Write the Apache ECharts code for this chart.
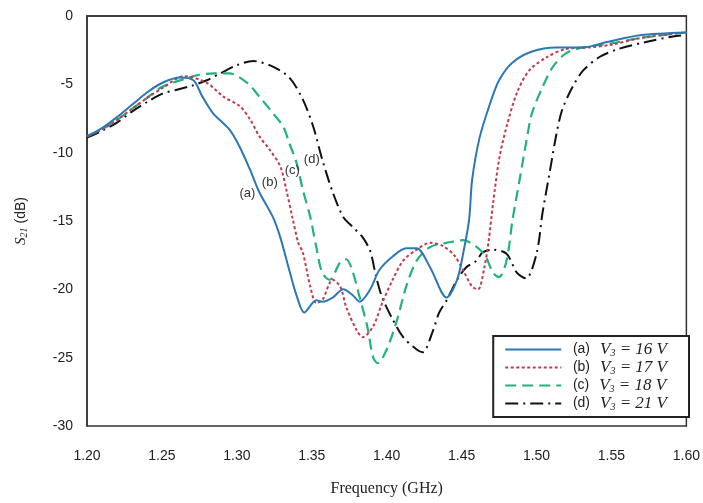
<!DOCTYPE html>
<html><head><meta charset="utf-8">
<script src="https://cdn.jsdelivr.net/npm/echarts@6/dist/echarts.min.js"></script>
<style>html,body{margin:0;padding:0;background:#fff}#c{width:703px;height:503px}</style>
</head><body><div id="c"></div>
<script>
// ---- data (frequency in GHz, S21 in dB) ----
const fA = [1.20,1.21,1.22,1.23,1.24,1.25,1.262,1.271,1.277,1.284,1.295,1.302,1.309,1.315,1.324,1.329,1.335,1.340,1.345,1.353,1.357,1.364,1.371,1.377,1.382,1.389,1.395,1.404,1.413,1.420,1.429,1.440,1.447,1.451,1.455,1.457,1.462,1.469,1.475,1.484,1.497,1.513,1.531,1.547,1.569,1.60];
const sA = [-8.8,-8.2,-7.4,-6.5,-5.6,-4.9,-4.5,-4.7,-5.9,-7.1,-8.3,-9.6,-11.3,-12.9,-14.7,-16.2,-18.6,-20.5,-21.7,-20.8,-20.9,-20.6,-20.0,-20.4,-20.9,-20.0,-18.6,-17.6,-17.0,-17.0,-18.4,-20.6,-19.3,-17.4,-14.9,-12.0,-8.9,-6.4,-4.7,-3.4,-2.6,-2.3,-2.3,-1.9,-1.4,-1.2];

const fB = [1.20,1.21,1.22,1.23,1.24,1.25,1.265,1.280,1.291,1.302,1.309,1.315,1.322,1.329,1.333,1.337,1.341,1.344,1.349,1.353,1.357,1.364,1.369,1.373,1.380,1.384,1.391,1.397,1.404,1.411,1.420,1.429,1.437,1.445,1.451,1.457,1.461,1.465,1.468,1.471,1.475,1.480,1.487,1.495,1.507,1.520,1.535,1.550,1.570,1.60];
const sB = [-8.8,-8.3,-7.6,-6.8,-6.0,-5.3,-4.4,-4.9,-5.9,-6.6,-7.6,-8.8,-9.8,-11.0,-12.7,-14.7,-16.6,-17.3,-19.8,-21.0,-20.8,-19.3,-19.8,-21.3,-23.0,-23.5,-22.7,-21.0,-19.3,-17.9,-17.1,-16.6,-16.8,-17.5,-18.6,-19.8,-20.0,-18.5,-16.5,-13.7,-10.5,-8.1,-5.6,-4.0,-3.0,-2.4,-2.3,-2.1,-1.6,-1.2];

const fC = [1.20,1.21,1.22,1.23,1.24,1.25,1.265,1.275,1.285,1.295,1.307,1.315,1.324,1.331,1.335,1.340,1.344,1.349,1.353,1.357,1.362,1.369,1.373,1.377,1.382,1.387,1.391,1.394,1.400,1.407,1.413,1.420,1.429,1.440,1.451,1.460,1.466,1.471,1.475,1.480,1.484,1.489,1.493,1.497,1.504,1.511,1.520,1.531,1.550,1.570,1.60];
const sC = [-8.8,-8.3,-7.6,-6.8,-6.0,-5.2,-4.6,-4.3,-4.2,-4.2,-4.9,-5.9,-7.1,-8.1,-9.3,-10.8,-12.7,-14.7,-16.9,-18.8,-19.3,-18.0,-17.8,-18.6,-20.6,-22.7,-25.0,-25.4,-24.4,-22.2,-19.8,-17.9,-16.9,-16.6,-16.4,-16.9,-17.6,-18.8,-19.1,-17.9,-14.9,-11.8,-9.3,-7.1,-5.2,-3.7,-2.7,-2.3,-2.0,-1.6,-1.2];

const fD = [1.20,1.21,1.22,1.23,1.24,1.25,1.26,1.27,1.28,1.289,1.300,1.311,1.324,1.335,1.344,1.351,1.357,1.364,1.371,1.377,1.384,1.389,1.393,1.397,1.404,1.411,1.420,1.424,1.431,1.435,1.440,1.447,1.453,1.460,1.464,1.471,1.480,1.487,1.493,1.500,1.504,1.509,1.513,1.517,1.524,1.531,1.542,1.555,1.573,1.591,1.60];
const sD = [-8.9,-8.4,-7.8,-7.0,-6.3,-5.7,-5.4,-5.1,-4.7,-4.2,-3.6,-3.3,-3.7,-4.5,-6.1,-8.1,-10.5,-12.9,-14.7,-15.4,-16.2,-17.2,-19.1,-20.6,-22.2,-23.5,-24.4,-24.6,-23.0,-21.7,-20.8,-19.3,-18.4,-17.9,-17.3,-17.1,-17.4,-18.8,-19.2,-17.4,-14.4,-11.3,-8.8,-6.9,-5.2,-4.0,-3.0,-2.4,-1.9,-1.5,-1.4];

const seriesNames = ['(a)','(b)','(c)','(d)'];
const voltages = ['16','17','18','21'];
// curve tag label anchors [GHz, dB]
const tagPos = [[1.307,-13.0],[1.322,-12.2],[1.337,-11.3],[1.350,-10.5]];
const xTicks = [1.20,1.25,1.30,1.35,1.40,1.45,1.50,1.55,1.60];
const yTicks = [0,-5,-10,-15,-20,-25,-30];

const zip = (f, s) => f.map((v, i) => [v, s[i]]);
const colors = ['#2b78b5', '#c23a4e', '#22b27a', '#111111'];
const dashes = ['solid', [3,2.5], [11,6], [13,5,2,5]];
const widths = [2, 2, 2.2, 2];
const datas = [zip(fA,sA), zip(fB,sB), zip(fC,sC), zip(fD,sD)];

const chart = echarts.init(document.getElementById('c'), null, {renderer: 'canvas'});
const series = datas.map((d, i) => ({
  name: seriesNames[i],
  type: 'line',
  data: d,
  symbol: 'none',
  smooth: 0.3,
  lineStyle: {color: colors[i], width: widths[i], type: dashes[i]},
  itemStyle: {color: colors[i]},
  z: 5 - i,
  markPoint: {
    symbol: 'circle', symbolSize: 1, silent: true,
    itemStyle: {color: 'rgba(0,0,0,0)'},
    label: {show: true, position: 'inside', formatter: seriesNames[i], color: '#333', fontFamily: 'Liberation Sans', fontSize: 13},
    data: [{coord: tagPos[i]}]
  }
}));

chart.setOption({
  animation: false,
  backgroundColor: '#fff',
  grid: {left: 87, right: 16, top: 16, bottom: 77, show: true, borderColor: '#333', borderWidth: 1.5, backgroundColor: 'transparent'},
  xAxis: {
    type: 'value', min: 1.20, max: 1.60, interval: 0.05,
    name: 'Frequency (GHz)', nameLocation: 'middle', nameGap: 55,
    nameTextStyle: {fontFamily: 'Liberation Serif', fontSize: 16, color: '#222'},
    axisLine: {show: true, lineStyle: {color: '#333', width: 1.5}},
    axisTick: {show: false},
    splitLine: {show: false},
    axisLabel: {margin: 23, fontFamily: 'Liberation Sans', fontSize: 14, color: '#222',
      formatter: v => xTicks.some(t => Math.abs(t - v) < 1e-6) ? v.toFixed(2) : ''}
  },
  yAxis: {
    type: 'value', min: -30, max: 0, interval: 5,
    name: '{i|S}{s|21}{n| (dB)}', nameLocation: 'middle', nameGap: 58, nameRotate: 90,
    nameTextStyle: {rich: {
      i: {fontFamily: 'Liberation Serif', fontStyle: 'italic', fontSize: 15, color: '#222'},
      s: {fontFamily: 'Liberation Serif', fontStyle: 'italic', fontSize: 10, color: '#222', verticalAlign: 'bottom', padding: [6,0,0,0]},
      n: {fontFamily: 'Liberation Sans', fontSize: 14, color: '#222'}
    }},
    axisLine: {show: true, lineStyle: {color: '#333', width: 1.5}},
    axisTick: {show: false},
    splitLine: {show: false},
    axisLabel: {margin: 14, fontFamily: 'Liberation Sans', fontSize: 14, color: '#222',
      formatter: v => yTicks.indexOf(v) >= 0 ? String(v) : ''}
  },
  legend: {
    orient: 'vertical', right: 14, bottom: 86,
    backgroundColor: '#fff', borderColor: '#222', borderWidth: 2,
    padding: [5, 22, 5, 11],
    itemWidth: 56, itemHeight: 12, itemGap: 1,
    itemStyle: {opacity: 0},
    data: seriesNames,
    formatter: name => {
      const i = seriesNames.indexOf(name);
      return '  {n|' + name + '}   {i|V}{s|3}{i| = ' + voltages[i] + ' V}';
    },
    textStyle: {rich: {
      n: {fontFamily: 'Liberation Sans', fontSize: 14, color: '#222'},
      i: {fontFamily: 'Liberation Serif', fontStyle: 'italic', fontSize: 17, color: '#222'},
      s: {fontFamily: 'Liberation Serif', fontStyle: 'italic', fontSize: 10, color: '#222', verticalAlign: 'bottom', padding: [6,0,0,0]}
    }}
  },
  series: series
});
</script>
</body></html>
